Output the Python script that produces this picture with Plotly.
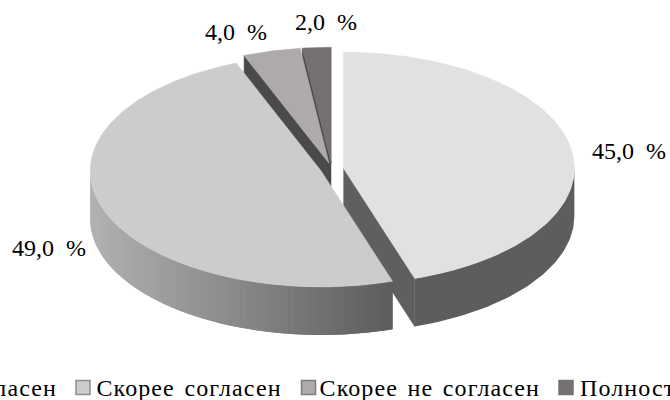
import numpy as np
import plotly.graph_objects as go

# Data
names = ["Полностью согласен", "Скорее согласен", "Скорее не согласен", "Полностью не согласен"]
values = [45.0, 49.0, 4.0, 2.0]

# Styles per slice
top_colors = ["#e1e1e1", "#cdcbcc", "#aeaaaa", "#767171"]
rim_left = ["#5d5d5d", "#b2b2b2", "#777777", "#555555"]
rim_right = ["#5d5d5d", "#5c5c5c", "#777777", "#555555"]
face_colors = ["#5f5f5f", "#5f5f5f", "#4b4a4a", "#4a4949"]
legend_colors = ["#e1e1e1", "#cdcbcc", "#aeaaaa", "#767171"]
legend_edges = ["#a0a0a0", "#8f8f8f", "#7f7c7c", "#767171"]

# Pie geometry (in pixel-like axis units)
CX, CY, RX, RY, DEPTH, EXPLODE = 332.0, 169.0, 231.0, 116.0, 48.0, 11.5
DRAW_ORDER = [3, 2, 0, 1]
LABEL_POS = [(629, 151), (48.5, 248), (236, 32), (326, 22)]
LEGEND_Y = 388
LEGEND_MARK_Y = 387.5
LEGEND_TEXT_X = [-60, 188.5, 430, 714]
LEGEND_MARK_X = [-125, 83, 308.5, 566]
FONT = "Liberation Serif"

fig = go.Figure()


def poly(x, y, fill, line=None, width=0.6):
    fig.add_trace(go.Scatter(
        x=np.asarray(x), y=np.asarray(y), mode="lines", fill="toself", fillcolor=fill,
        line=dict(color=line or fill, width=width), hoverinfo="skip", showlegend=False))


def hex_rgb(h):
    return np.array([int(h[i:i + 2], 16) for i in (1, 3, 5)], dtype=float)


total = sum(values)
edges = np.concatenate([[0.0], np.cumsum(values)]) / total * 2 * np.pi

for i in DRAW_ORDER:
    a0, a1 = edges[i], edges[i + 1]
    mid = (a0 + a1) / 2
    cx = CX + EXPLODE * np.sin(mid)
    cy = CY - EXPLODE * (RY / RX) * np.cos(mid)

    def pt(a):
        return cx + RX * np.sin(a), cy - RY * np.cos(a)

    # radial side faces turned toward the viewer
    if np.sin(a0) < -1e-6:
        px, py = pt(a0)
        poly([cx, px, px, cx], [cy, py, py + DEPTH, cy + DEPTH], face_colors[i])
    if np.sin(a1) > 1e-6:
        px, py = pt(a1)
        poly([cx, px, px, cx], [cy, py, py + DEPTH, cy + DEPTH], face_colors[i])

    # outer rim, front half only, shaded left to right
    lo, hi = max(a0, np.pi / 2), min(a1, 3 * np.pi / 2)
    if hi > lo:
        cl, cr = hex_rgb(rim_left[i]), hex_rgb(rim_right[i])
        n = 1 if rim_left[i] == rim_right[i] else 70
        steps = np.linspace(hi, lo, n + 1)   # left end first
        xs = pt(steps)[0]
        for k in range(n):
            s1 = steps[min(k + 2, n)]
            sub = np.linspace(steps[k], s1, 60 if n == 1 else 8)
            px, py = pt(sub)
            t = (xs[k] - xs[0]) / max(xs[-1] - xs[0], 1)
            col = "rgb(%d,%d,%d)" % tuple(cl + (cr - cl) * t)
            poly(np.r_[px, px[::-1]], np.r_[py, py[::-1] + DEPTH], col, width=0)

    # top face
    arc = np.linspace(a0, a1, max(int((a1 - a0) * 60), 8))
    px, py = pt(arc)
    poly(np.r_[cx, px, cx], np.r_[cy, py, cy], top_colors[i], width=0.5)

annotations = []
for v, (lx, ly) in zip(values, LABEL_POS):
    annotations.append(dict(
        x=lx / 670, y=1 - ly / 400, xref="paper", yref="paper",
        xanchor="center", yanchor="middle", showarrow=False,
        text=f"{v:.1f}".replace(".", ",") + "\u00a0\u00a0%",
        font=dict(family=FONT, size=24, color="#000000")))

fig.add_trace(go.Scatter(
    x=LEGEND_MARK_X, y=[LEGEND_MARK_Y] * 4, mode="markers", hoverinfo="skip", showlegend=False,
    marker=dict(symbol="square", size=14, color=legend_colors,
                line=dict(color=legend_edges, width=1.5))))
for n, tx in zip(names, LEGEND_TEXT_X):
    annotations.append(dict(
        x=tx / 670, y=1 - LEGEND_Y / 400, xref="paper", yref="paper",
        xanchor="center", yanchor="middle", showarrow=False, text=n,
        font=dict(family=FONT, size=24, color="#000000")))

fig.update_layout(
    width=670, height=400, margin=dict(l=0, r=0, t=0, b=0),
    paper_bgcolor="white", plot_bgcolor="white", showlegend=False,
    xaxis=dict(range=[0, 670], visible=False, fixedrange=True),
    yaxis=dict(range=[400, 0], visible=False, fixedrange=True),
    annotations=annotations)

post = """
document.body.style.margin='0';
document.documentElement.style.overflow='hidden';
document.querySelectorAll('.annotation-text').forEach(function(t){
  if (t.textContent.indexOf('%') < 0) { t.style.letterSpacing='1.1px'; t.style.wordSpacing='2.5px'; }
});
"""
fig.write_html("out.html", config=dict(displayModeBar=False), post_script=post)
